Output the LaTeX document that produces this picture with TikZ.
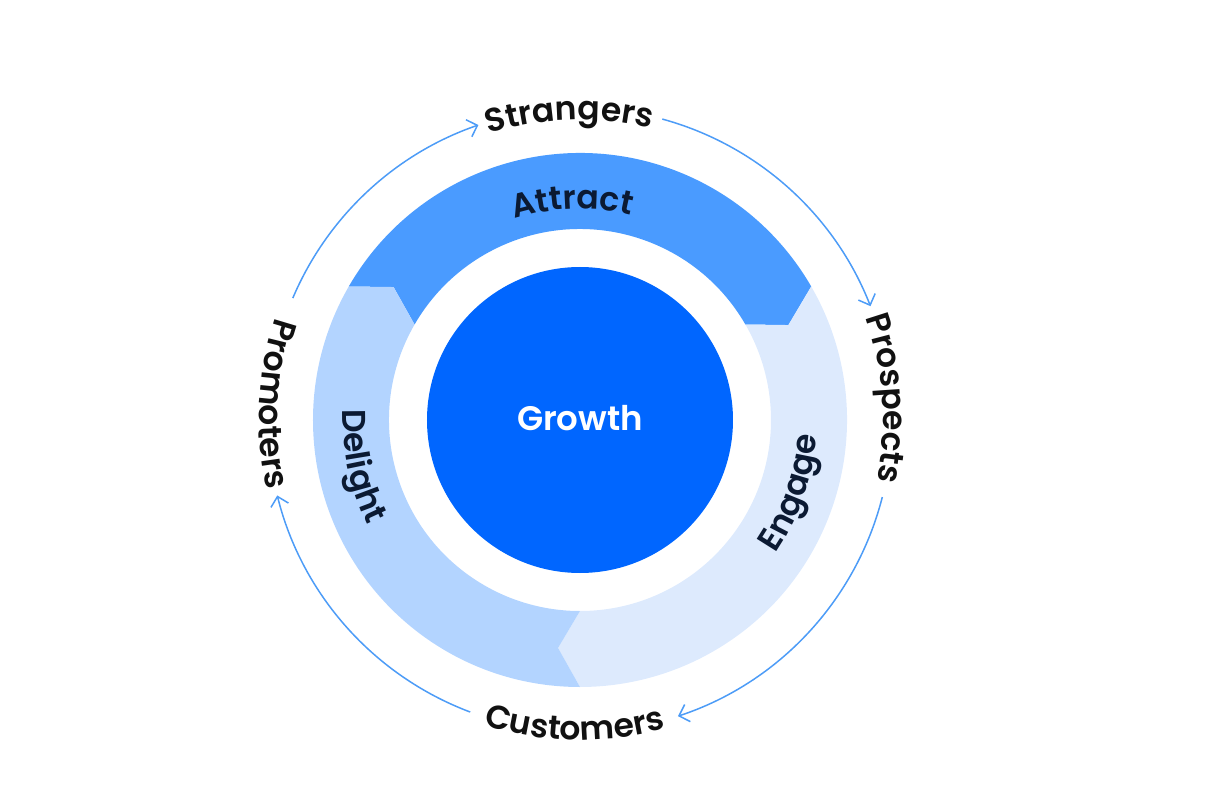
\documentclass[tikz,border=0pt]{standalone}
\usepackage{fontspec}
\setmainfont{Poppins}[BoldFont={Poppins SemiBold}]
\usetikzlibrary{arrows.meta,decorations.text}

\definecolor{attractblue}{HTML}{4A9BFF}
\definecolor{engageblue}{HTML}{DDEAFD}
\definecolor{delightblue}{HTML}{B3D4FF}
\definecolor{growthblue}{HTML}{0066FF}
\definecolor{cycleblue}{HTML}{4D9CF7}
\definecolor{stageink}{HTML}{0B1A33}
\definecolor{cycleink}{HTML}{111111}

\newcommand\cyclefont{\fontsize{16.5}{18}\selectfont\bfseries}

\begin{document}
\begin{tikzpicture}[
  x=0.5pt, y=0.5pt,
  cyclearrow/.style={draw=cycleblue, line width=0.75pt,
    -{Straight Barb[length=4.5pt,width=9pt]}},
  ringtext/.style={decorate, decoration={text along path,
    text align=center, text color=#1}}
]
\useasboundingbox (-580,-384) rectangle (626,420);

% flywheel bands: start angle / end angle / colour
\foreach \s/\e/\c in {150/30/attractblue, 30/-90/engageblue, 270/150/delightblue}
  \fill[\c] (\s:267) arc[start angle=\s, end angle=\e, radius=267]
    -- ({\e-5.5}:229) -- (\e:191) arc[start angle=\e, end angle=\s, radius=191]
    -- ({\s-5.5}:229) -- cycle;

\node[circle, fill=growthblue, minimum size=153pt, inner sep=0pt,
  text=white, font=\fontsize{17}{18}\selectfont\bfseries] (growth) at (0,0)
  {\raisebox{2.5pt}{Growth}};

% band labels
\path[ringtext=stageink, decoration={text={|\cyclefont|Attract}}]
  (137:211) arc[start angle=137, end angle=47, radius=211];
\path[ringtext=stageink, decoration={text={|\cyclefont|Engage}}]
  (-64:237) arc[start angle=-64, end angle=26, radius=237];
\path[ringtext=stageink, decoration={text={|\cyclefont|Delight}}]
  (147:237) arc[start angle=147, end angle=237, radius=237];

% stage labels on the outer loop
\path[ringtext=cycleink, decoration={text={|\cyclefont|Strangers}}]
  (137:300) arc[start angle=137, end angle=47, radius=300];
\path[ringtext=cycleink, decoration={text={|\cyclefont|Prospects}}]
  (49:303) arc[start angle=49, end angle=-41, radius=303];
\path[ringtext=cycleink, decoration={text={|\cyclefont|Customers}}]
  (224:320) arc[start angle=224, end angle=314, radius=320];
\path[ringtext=cycleink, decoration={text={|\cyclefont|Promoters}}]
  (132:321) arc[start angle=132, end angle=222, radius=321];

% arrows between the stages
\foreach \a/\b in {157/109, 74.7/21.4, -14.3/-71.7, 249.4/194}
  \draw[cyclearrow] (\a:312) arc[start angle=\a, end angle=\b, radius=312];
\end{tikzpicture}
\end{document}
